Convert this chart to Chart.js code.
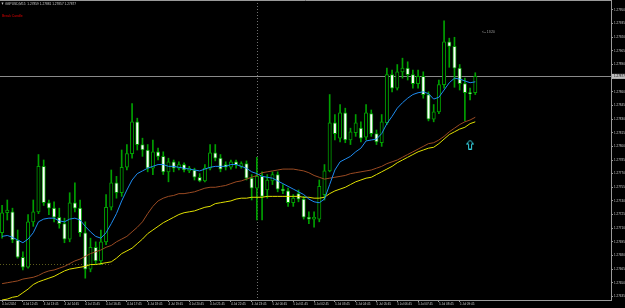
<!DOCTYPE html>
<html>
<head>
<meta charset="utf-8">
<script src="https://cdn.jsdelivr.net/npm/chart.js@4.4.1/dist/chart.umd.min.js"></script>
<style>
html, body { margin:0; padding:0; background:#000; }
canvas { display:block; }
</style>
</head>
<body>
<canvas id="canvas" width="625" height="308"></canvas>
<script>
// GBPUSD M15, 4 Jul 2024 11:45 .. 5 Jul 2024 10:30
var symbolTitle = 'GBPUSD,M15  1.27859 1.27881 1.27857 1.27877';
var noteText = 'Break Candle';
var timerText = '<-- 13:20';

var opens = [
	1.27705,1.27727,1.27728,1.27697,1.27678,1.27667,1.27717,1.27728,1.27778,1.27738,
	1.27732,1.27722,1.27715,1.27698,1.27738,1.27732,1.27705,1.27665,1.27689,1.27674,
	1.27695,1.27733,1.27760,1.27749,1.27777,1.27792,1.27827,1.27802,1.27796,1.27776,
	1.27794,1.27789,1.27772,1.27783,1.27776,1.27780,1.27773,1.27774,1.27766,1.27762,
	1.27776,1.27793,1.27787,1.27780,1.27777,1.27783,1.27778,1.27781,1.27765,1.27754,
	1.27767,1.27752,1.27762,1.27769,1.27753,1.27751,1.27738,1.27748,1.27742,1.27722,
	1.27720,1.27720,1.27747,1.27773,1.27826,1.27809,1.27837,1.27807,1.27815,1.27820,
	1.27810,1.27836,1.27814,1.27804,1.27826,1.27879,1.27864,1.27882,1.27886,1.27879,
	1.27869,1.27877,1.27857,1.27830,1.27838,1.27868,1.27915,1.27910,1.27886,1.27869,
	1.27859,1.27859];
var highs = [
	1.27735,1.27741,1.27732,1.27708,1.27684,1.27725,1.27741,1.27791,1.27785,1.27741,
	1.27739,1.27732,1.27721,1.27749,1.27760,1.27741,1.27717,1.27699,1.27695,1.27708,
	1.27747,1.27774,1.27767,1.27796,1.27802,1.27847,1.27831,1.27809,1.27802,1.27807,
	1.27798,1.27794,1.27787,1.27785,1.27783,1.27782,1.27778,1.27776,1.27770,1.27780,
	1.27802,1.27802,1.27791,1.27783,1.27785,1.27785,1.27783,1.27784,1.27769,1.27788,
	1.27772,1.27769,1.27772,1.27772,1.27758,1.27754,1.27747,1.27752,1.27745,1.27728,
	1.27728,1.27763,1.27780,1.27857,1.27835,1.27846,1.27842,1.27820,1.27835,1.27827,
	1.27846,1.27840,1.27818,1.27835,1.27886,1.27884,1.27890,1.27897,1.27893,1.27884,
	1.27884,1.27882,1.27860,1.27846,1.27873,1.27938,1.27919,1.27920,1.27890,1.27875,
	1.27864,1.27881];
var lows = [
	1.27699,1.27719,1.27694,1.27677,1.27664,1.27666,1.27712,1.27726,1.27735,1.27725,
	1.27717,1.27710,1.27694,1.27695,1.27728,1.27701,1.27655,1.27662,1.27671,1.27670,
	1.27692,1.27730,1.27743,1.27745,1.27774,1.27787,1.27796,1.27789,1.27772,1.27769,
	1.27785,1.27769,1.27761,1.27772,1.27774,1.27772,1.27771,1.27763,1.27761,1.27761,
	1.27774,1.27784,1.27772,1.27774,1.27775,1.27776,1.27776,1.27763,1.27741,1.27719,
	1.27719,1.27743,1.27758,1.27750,1.27748,1.27734,1.27734,1.27739,1.27720,1.27715,
	1.27711,1.27717,1.27741,1.27772,1.27807,1.27805,1.27804,1.27802,1.27811,1.27805,
	1.27807,1.27811,1.27802,1.27800,1.27824,1.27860,1.27862,1.27875,1.27873,1.27864,
	1.27864,1.27853,1.27828,1.27827,1.27836,1.27864,1.27887,1.27865,1.27862,1.27828,
	1.27851,1.27857];
var closes = [
	1.27727,1.27730,1.27697,1.27678,1.27667,1.27717,1.27728,1.27778,1.27738,1.27732,
	1.27722,1.27715,1.27698,1.27738,1.27732,1.27705,1.27665,1.27689,1.27674,1.27695,
	1.27733,1.27760,1.27749,1.27777,1.27792,1.27827,1.27802,1.27796,1.27776,1.27794,
	1.27789,1.27772,1.27783,1.27776,1.27780,1.27774,1.27776,1.27766,1.27762,1.27776,
	1.27793,1.27787,1.27775,1.27777,1.27783,1.27780,1.27781,1.27765,1.27754,1.27767,
	1.27745,1.27763,1.27769,1.27753,1.27751,1.27738,1.27743,1.27742,1.27722,1.27720,
	1.27722,1.27756,1.27773,1.27826,1.27814,1.27837,1.27807,1.27816,1.27826,1.27809,
	1.27837,1.27814,1.27805,1.27827,1.27879,1.27864,1.27882,1.27886,1.27879,1.27869,
	1.27877,1.27857,1.27830,1.27838,1.27868,1.27915,1.27910,1.27886,1.27869,1.27859,
	1.27858,1.27877];

// moving averages (blue fast, brown middle, yellow slow)
var maFast = [
	1.27701,1.27702,1.27700,1.27697,1.27694,1.27698,1.27705,1.27717,1.27720,1.27721,
	1.27721,1.27718,1.27717,1.27720,1.27721,1.27719,1.27712,1.27706,1.27701,1.27699,
	1.27705,1.27715,1.27726,1.27740,1.27752,1.27763,1.27770,1.27773,1.27776,1.27778,
	1.27780,1.27780,1.27778,1.27778,1.27777,1.27776,1.27775,1.27774,1.27773,1.27775,
	1.27777,1.27778,1.27778,1.27778,1.27780,1.27780,1.27778,1.27776,1.27772,1.27770,
	1.27767,1.27766,1.27765,1.27762,1.27759,1.27756,1.27753,1.27750,1.27747,1.27742,
	1.27739,1.27738,1.27742,1.27758,1.27774,1.27783,1.27786,1.27789,1.27794,1.27798,
	1.27806,1.27807,1.27808,1.27814,1.27825,1.27833,1.27842,1.27848,1.27853,1.27857,
	1.27859,1.27860,1.27858,1.27852,1.27854,1.27862,1.27870,1.27875,1.27874,1.27872,
	1.27870,1.27871];
var maMid = [
	1.27649,1.27650,1.27651,1.27652,1.27654,1.27655,1.27656,1.27658,1.27661,1.27663,
	1.27664,1.27666,1.27668,1.27671,1.27674,1.27676,1.27679,1.27682,1.27684,1.27686,
	1.27689,1.27691,1.27695,1.27698,1.27701,1.27706,1.27711,1.27717,1.27726,1.27734,
	1.27740,1.27743,1.27745,1.27746,1.27748,1.27748,1.27749,1.27750,1.27752,1.27754,
	1.27755,1.27755,1.27756,1.27757,1.27759,1.27761,1.27762,1.27764,1.27766,1.27768,
	1.27771,1.27772,1.27773,1.27774,1.27775,1.27775,1.27775,1.27774,1.27773,1.27771,
	1.27768,1.27766,1.27764,1.27765,1.27766,1.27767,1.27768,1.27770,1.27771,1.27772,
	1.27773,1.27774,1.27776,1.27778,1.27781,1.27783,1.27785,1.27788,1.27791,1.27794,
	1.27797,1.27800,1.27803,1.27804,1.27807,1.27811,1.27816,1.27820,1.27824,1.27827,
	1.27829,1.27832];
var maSlow = [
	1.27631,1.27632,1.27634,1.27635,1.27639,1.27643,1.27648,1.27651,1.27653,1.27655,
	1.27657,1.27660,1.27663,1.27665,1.27666,1.27667,1.27668,1.27670,1.27670,1.27671,
	1.27672,1.27673,1.27677,1.27682,1.27685,1.27688,1.27693,1.27698,1.27704,1.27708,
	1.27712,1.27716,1.27719,1.27722,1.27725,1.27727,1.27728,1.27729,1.27731,1.27733,
	1.27734,1.27737,1.27738,1.27739,1.27740,1.27742,1.27743,1.27743,1.27744,1.27744,
	1.27744,1.27745,1.27745,1.27745,1.27745,1.27745,1.27745,1.27745,1.27744,1.27744,
	1.27743,1.27743,1.27744,1.27748,1.27751,1.27753,1.27755,1.27758,1.27761,1.27763,
	1.27765,1.27766,1.27769,1.27772,1.27775,1.27778,1.27782,1.27785,1.27788,1.27791,
	1.27794,1.27796,1.27798,1.27799,1.27803,1.27808,1.27813,1.27816,1.27819,1.27821,
	1.27825,1.27827];

var xTickLabels = ['4 Jul 2024','4 Jul 12:45','4 Jul 13:45','4 Jul 14:45','4 Jul 15:45','4 Jul 16:45',
	'4 Jul 17:45','4 Jul 18:45','4 Jul 19:45','4 Jul 20:45','4 Jul 21:45','4 Jul 22:45','4 Jul 23:45',
	'5 Jul 00:45','5 Jul 01:45','5 Jul 02:45','5 Jul 03:45','5 Jul 04:45','5 Jul 05:45','5 Jul 06:45',
	'5 Jul 07:45','5 Jul 08:45','5 Jul 09:45'];
var yTickLabels = ['1.27950','1.27935','1.27920','1.27905','1.27890','1.27875','1.27860','1.27845',
	'1.27830','1.27815','1.27800','1.27785','1.27770','1.27755','1.27740','1.27725','1.27710',
	'1.27695','1.27680','1.27665','1.27650','1.27635'];

var separatorBar = 49;      // 5 Jul 00:00
var levelPrice = 1.27671;   // dotted level on the left
var levelEndBar = 21;
var arrowBar = [90];
var arrowPrice = [1.27802];
var lastPrice = 1.27877;

Chart.defaults.font.family = 'Liberation Sans';

var green = '#00a000';

var arrowImg = document.createElement('canvas');
arrowImg.width = 8; arrowImg.height = 10;
var ac = arrowImg.getContext('2d');
ac.strokeStyle = '#37d6e6';
ac.lineWidth = 1;
ac.beginPath();
ac.moveTo(4, 0.5); ac.lineTo(7.5, 4.5); ac.lineTo(5.5, 4.5); ac.lineTo(5.5, 9.5);
ac.lineTo(2.5, 9.5); ac.lineTo(2.5, 4.5); ac.lineTo(0.5, 4.5); ac.closePath();
ac.stroke();

function toPoints(arr) {
	return arr.map(function(v, i) { return {x: i, y: v}; });
}
var wickData = opens.map(function(o, i) { return {x: i, y: [lows[i], highs[i]]}; });
var bodyData = opens.map(function(o, i) { return {x: i, y: [o, closes[i]]}; });

var overlay = {
	id: 'overlay',
	beforeDatasetsDraw: function(chart) {
		var c = chart.ctx, a = chart.chartArea, xs = chart.scales.x, ys = chart.scales.y;
		c.save();
		c.lineWidth = 1;
		// period separator
		var sx = Math.round(xs.getPixelForValue(separatorBar)) + 0.5;
		c.setLineDash([1, 2]);
		c.strokeStyle = '#707070';
		c.beginPath(); c.moveTo(sx, a.top); c.lineTo(sx, a.bottom); c.stroke();
		// dotted level
		var ly = Math.round(ys.getPixelForValue(levelPrice)) + 0.5;
		c.strokeStyle = '#5c5c1c';
		c.beginPath(); c.moveTo(a.left, ly); c.lineTo(xs.getPixelForValue(levelEndBar), ly); c.stroke();
		// bid line
		c.setLineDash([]);
		var py = Math.round(ys.getPixelForValue(lastPrice)) + 0.5;
		c.strokeStyle = '#8a8a8a';
		c.beginPath(); c.moveTo(a.left, py); c.lineTo(a.right + 3, py); c.stroke();
		c.restore();
	},
	afterDraw: function(chart) {
		var c = chart.ctx, a = chart.chartArea, ys = chart.scales.y;
		c.save();
		c.strokeStyle = '#9a9a9a';
		c.lineWidth = 1;
		c.beginPath(); c.moveTo(0, 0.5); c.lineTo(a.right, 0.5); c.stroke();
		// price box
		var py = ys.getPixelForValue(lastPrice);
		c.fillStyle = '#bdbdbd';
		c.fillRect(a.right + 1, py - 2.5, 13, 5);
		c.fillStyle = '#000';
		c.font = '3px Liberation Sans';
		c.textBaseline = 'middle';
		c.fillText(lastPrice.toFixed(5), a.right + 3, py);
		// texts
		c.fillStyle = '#c8c8c8';
		c.font = '3.2px Liberation Sans';
		c.fillText(symbolTitle, 5, 4);
		c.beginPath(); c.moveTo(1.5, 2.5); c.lineTo(3.5, 2.5); c.lineTo(2.5, 5); c.closePath(); c.fill();
		c.fillStyle = '#e00000';
		c.font = '3.4px Liberation Sans';
		c.fillText(noteText, 2, 16);
		c.fillStyle = '#a8a8a8';
		c.font = '3.2px Liberation Sans';
		c.fillText(timerText, 482, 32);
		c.restore();
	}
};

var ctx = document.getElementById('canvas').getContext('2d');
window.myChart = new Chart(ctx, {
	type: 'bar',
	data: {
		datasets: [{
			type: 'line',
			data: arrowBar.map(function(b, i) { return {x: b, y: arrowPrice[i]}; }),
			showLine: false,
			pointStyle: arrowImg,
			pointRadius: 5,
			order: 0
		}, {
			type: 'line',
			data: toPoints(maFast),
			borderColor: '#1e8cf0',
			borderWidth: 1,
			pointRadius: 0,
			order: 1
		}, {
			type: 'line',
			data: toPoints(maMid),
			borderColor: '#9a4a22',
			borderWidth: 1,
			pointRadius: 0,
			order: 1
		}, {
			type: 'line',
			data: toPoints(maSlow),
			borderColor: '#e0e000',
			borderWidth: 1,
			pointRadius: 0,
			order: 1
		}, {
			data: bodyData,
			barThickness: 3.4,
			grouped: false,
			minBarLength: 1,
			borderSkipped: false,
			borderWidth: 1,
			borderColor: green,
			backgroundColor: function(c) {
				var i = c.dataIndex;
				return closes[i] >= opens[i] ? '#000000' : '#ffffff';
			},
			order: 3
		}, {
			data: wickData,
			barThickness: 1,
			grouped: false,
			backgroundColor: green,
			borderWidth: 0,
			order: 4
		}]
	},
	options: {
		responsive: false,
		animation: false,
		events: [],
		layout: { padding: 0, autoPadding: false },
		plugins: { legend: { display: false }, tooltip: { enabled: false } },
		scales: {
			x: {
				type: 'linear',
				min: -0.4,
				max: 117.1,
				offset: false,
				grid: { display: true, offset: false, drawOnChartArea: false, tickLength: 2, color: '#9a9a9a' },
				border: { display: true, color: '#9a9a9a' },
				afterBuildTicks: function(s) {
					s.ticks = xTickLabels.map(function(t, k) { return {value: k * 4}; });
				},
				afterFit: function(s) { s.height = 8; s.paddingLeft = 0; s.paddingRight = 0; },
				ticks: {
					autoSkip: false, maxRotation: 0, align: 'start', padding: 0,
					color: '#c8c8c8', font: { size: 3 },
					callback: function(v, i) { return xTickLabels[i]; }
				}
			},
			y: {
				position: 'right',
				min: 1.27631,
				max: 1.27961,
				grid: { display: true, drawOnChartArea: false, tickLength: 2, color: '#9a9a9a' },
				border: { display: true, color: '#9a9a9a' },
				afterBuildTicks: function(s) {
					s.ticks = yTickLabels.map(function(t) { return {value: parseFloat(t)}; });
				},
				afterFit: function(s) { s.width = 14; s.paddingTop = 0; s.paddingBottom = 0; },
				ticks: {
					padding: 1, color: '#c8c8c8', font: { size: 3 },
					callback: function(v, i) { return yTickLabels[i]; }
				}
			}
		}
	},
	plugins: [overlay]
});
</script>
</body>
</html>
